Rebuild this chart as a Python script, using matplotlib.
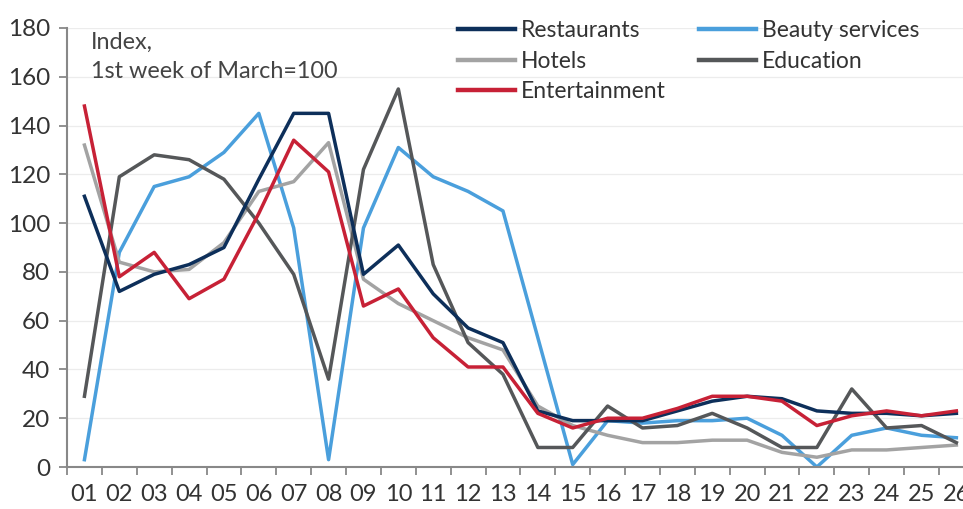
import matplotlib
matplotlib.use("Agg")
import matplotlib.pyplot as plt
from matplotlib.ticker import FixedLocator

# weeks (x-axis labels)
weeks = ["%02d" % i for i in range(1, 27)]

restaurants = [111, 72, 79, 83, 90, 118, 145, 145, 79, 91, 71, 57, 51, 23, 19, 19, 19, 23, 27, 29,
               28, 23, 22, 22, 21, 22]
hotels = [132, 84, 80, 81, 92, 113, 117, 133, 77, 67, 60, 53, 48, 25, 17, 13, 10, 10, 11, 11,
          6, 4, 7, 7, 8, 9]
entertainment = [148, 78, 88, 69, 77, 104, 134, 121, 66, 73, 53, 41, 41, 22, 16, 20, 20, 24, 29, 29,
                 27, 17, 21, 23, 21, 23]
beauty = [3, 88, 115, 119, 129, 145, 98, 3, 98, 131, 119, 113, 105, 53, 1, 19, 18, 19, 19, 20,
          13, 0, 13, 16, 13, 12]
education = [29, 119, 128, 126, 118, 100, 79, 36, 122, 155, 83, 51, 38, 8, 8, 25, 16, 17, 22, 16,
             8, 8, 32, 16, 17, 10]

C_REST = "#0d2f5a"
C_HOTEL = "#a3a3a3"
C_ENT = "#c72136"
C_BEAUTY = "#4a9fdc"
C_EDU = "#555759"
LW = 2.5
FONT = "Lato"

x = list(range(1, len(weeks) + 1))

fig = plt.figure(figsize=(9.63, 5.09), dpi=100)
ax = fig.add_axes([67 / 963, 42 / 509, 896 / 963, 439 / 509])

for y in range(20, 181, 20):
    ax.axhline(y, color="#ececec", lw=0.9, zorder=0)

l_beauty, = ax.plot(x, beauty, color=C_BEAUTY, lw=LW, label="Beauty services", zorder=2)
l_hotel, = ax.plot(x, hotels, color=C_HOTEL, lw=LW, label="Hotels", zorder=2)
l_edu, = ax.plot(x, education, color=C_EDU, lw=LW, label="Education", zorder=3)
l_rest, = ax.plot(x, restaurants, color=C_REST, lw=LW, label="Restaurants", zorder=4)
l_ent, = ax.plot(x, entertainment, color=C_ENT, lw=LW, label="Entertainment", zorder=5)

ax.set_xlim(0.5, 26.19)
ax.set_ylim(0, 180)
ax.set_yticks(range(0, 181, 20))
ax.set_xticks(x)
ax.set_xticklabels(weeks)
ax.xaxis.set_minor_locator(FixedLocator([i + 0.5 for i in range(0, 26)]))
ax.tick_params(axis="x", which="major", length=0, pad=12, labelsize=17, labelcolor="#333333")
ax.tick_params(axis="x", which="minor", length=6, width=1.3, color="#888888", direction="out")
ax.tick_params(axis="y", length=6, width=1.3, color="#888888", pad=6, labelsize=17.5,
               labelcolor="#333333")
for lab in ax.get_xticklabels() + ax.get_yticklabels():
    lab.set_fontfamily(FONT)

for s in ["top", "right"]:
    ax.spines[s].set_visible(False)
for s in ["left", "bottom"]:
    ax.spines[s].set_color("#888888")
    ax.spines[s].set_linewidth(1.5)

ax.text(91 / 963, (509 - 32) / 509, "Index,\n1st week of March=100", transform=fig.transFigure,
        fontsize=16.8, color="#444444", family=FONT, va="top", ha="left", linespacing=1.45)

leg = fig.legend(handles=[l_rest, l_hotel, l_ent, l_beauty, l_edu], ncol=2, loc="upper left",
                 bbox_to_anchor=(458 / 963, (509 - 20) / 509), frameon=False, borderpad=0,
                 borderaxespad=0, handlelength=2.5, handletextpad=0.25, columnspacing=1.45,
                 labelspacing=0.42, prop={"family": FONT, "size": 16.5})
for t in leg.get_texts():
    t.set_color("#333333")
for h in leg.legend_handles:
    h.set_linewidth(3.2)

fig.savefig("out.png", dpi=100)
